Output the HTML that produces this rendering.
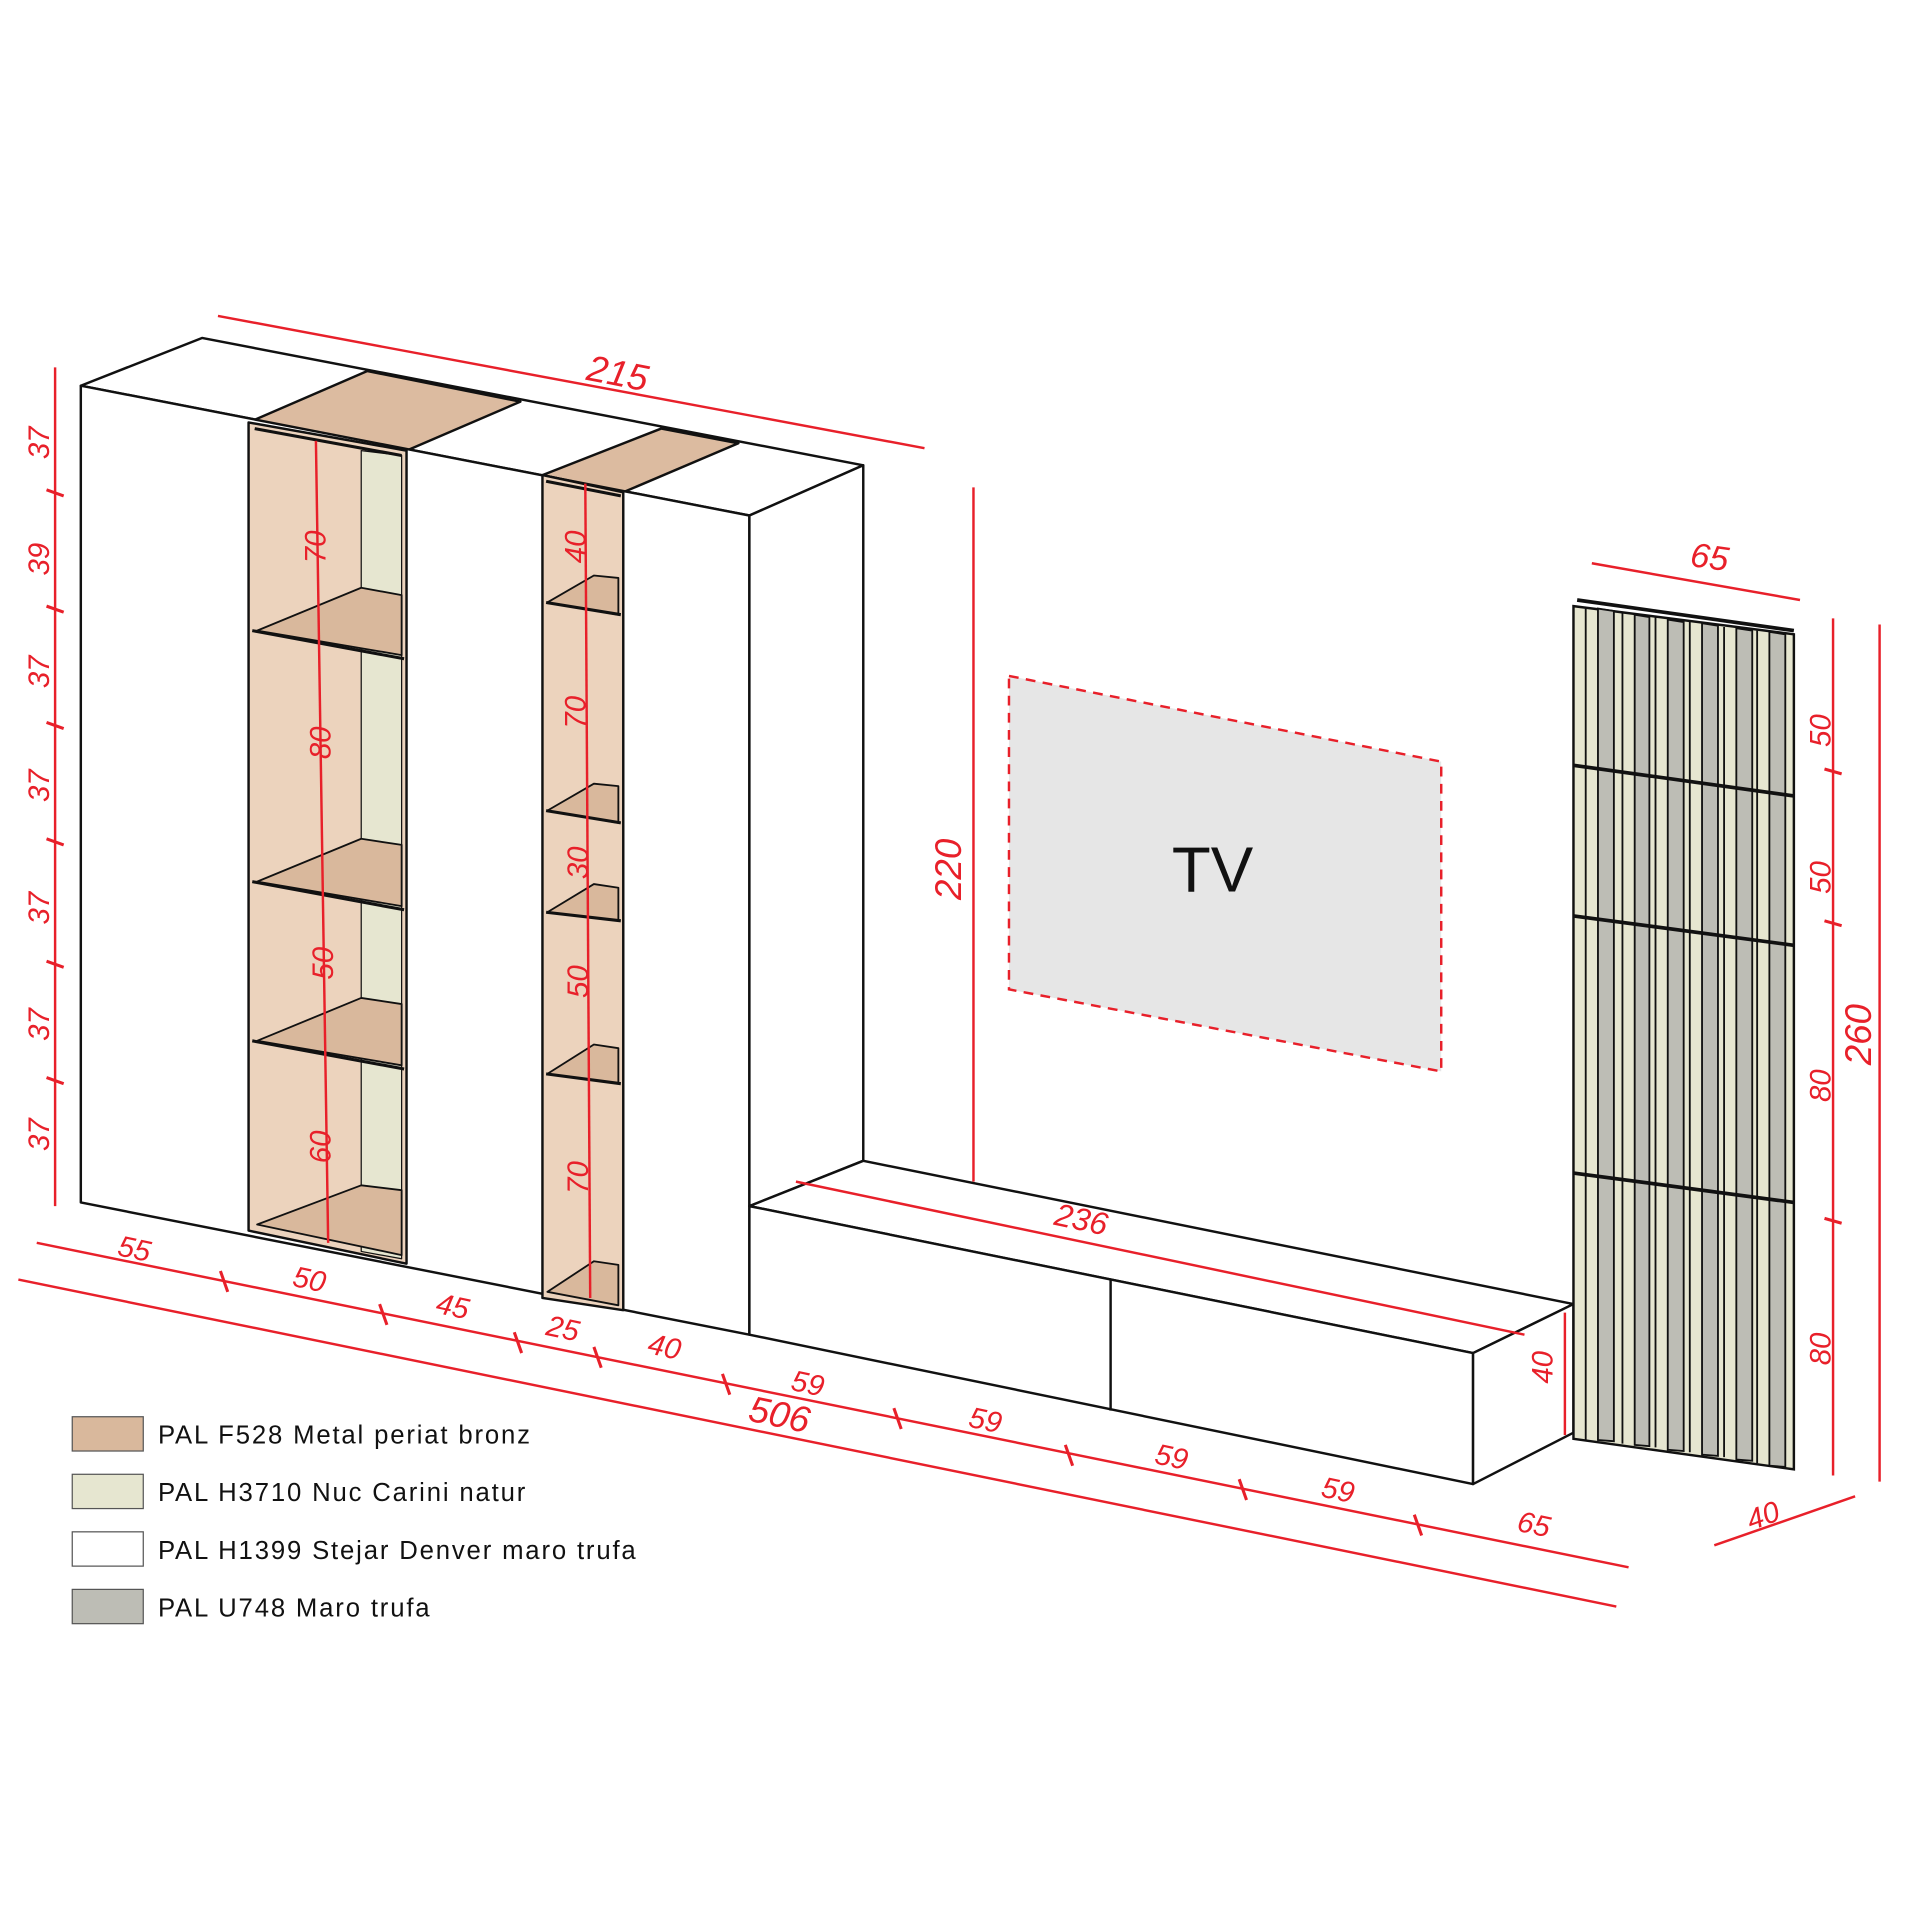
<!DOCTYPE html>
<html><head><meta charset="utf-8"><style>
html,body{margin:0;padding:0;background:#fff;width:1920px;height:1920px;overflow:hidden}
svg{display:block}
.r{fill:#e8202a;font-family:"Liberation Sans",sans-serif;font-size:24px;font-style:italic}
.l{fill:#111;font-family:"Liberation Sans",sans-serif;font-size:21px;letter-spacing:1.5px}
</style></head><body>
<svg width="1920" height="1920" viewBox="0 0 1568 1568" xmlns="http://www.w3.org/2000/svg">
<g stroke="#111" stroke-width="2" fill="#fff" stroke-linejoin="round">
<polygon points="66,315 165,276 705,380 612,421"/>
<polygon points="203,345 300,303 425,328 332,368" fill="#dcbba0"/>
<polygon points="443,388 540,350 603,362 509,402" fill="#dcbba0"/>
<polygon points="66,315 612,421 612,1090 66,982"/>
<polygon points="612,421 705,380 705,948 612,985"/>
<polygon points="203,345 332,368 332,1032 203,1005" fill="#ecd3bd"/>
<polygon points="295,368 328,372 328,1028 295,1022" fill="#e6e6d0" stroke-width="1"/>
<g fill="#d9b89c" stroke-width="1.5">
<polygon points="210,515 295,480 328,486 328,535"/>
<polygon points="210,720 295,685 328,690 328,740"/>
<polygon points="210,850 295,815 328,820 328,870"/>
<polygon points="210,1000 295,968 328,972 328,1025"/>
</g>
<g fill="none" stroke-width="2.5"><line x1="206" y1="515" x2="330" y2="538"/><line x1="206" y1="720" x2="330" y2="743"/><line x1="206" y1="850" x2="330" y2="873"/><line x1="208" y1="350" x2="328" y2="372"/></g>
<polygon points="443,388 509,402 509,1070 443,1060" fill="#ecd3bd"/>
<g fill="#d9b89c" stroke-width="1.5">
<polygon points="447,492 485,470 505,472 505,502"/>
<polygon points="447,662 485,640 505,642 505,672"/>
<polygon points="447,745 485,722 505,725 505,752"/>
<polygon points="447,877 485,853 505,856 505,885"/>
<polygon points="447,1055 485,1030 505,1033 505,1066"/>
</g>
<g fill="none" stroke-width="2.5"><line x1="446" y1="492" x2="507" y2="502"/><line x1="446" y1="662" x2="507" y2="672"/><line x1="446" y1="745" x2="507" y2="752"/><line x1="446" y1="877" x2="507" y2="885"/><line x1="446" y1="393" x2="507" y2="405"/></g>
<polygon points="612,985 705,948 1285,1065 1203,1105"/>
<polygon points="612,985 1203,1105 1203,1212 612,1090"/>
<polygon points="1203,1105 1285,1065 1285,1170 1203,1212"/>
<line x1="907" y1="1045" x2="907" y2="1152"/>
</g>
<polygon points="824,552 1177,622 1177,875 824,808" fill="#e6e6e6" stroke="#e8202a" stroke-width="2" stroke-dasharray="8,6"/>
<text x="957" y="728" font-family="Liberation Sans,sans-serif" font-size="52" fill="#111">TV</text>
<g stroke="#111" stroke-width="2">
<polygon points="1285,495 1465,518 1465,1200 1285,1175" fill="#e6e6d0"/>
<g fill="#bdbdb5" stroke-width="1.5">
<polygon points="1305,497 1318,499 1318,1177 1305,1176"/>
<polygon points="1335,502 1347,504 1347,1181 1335,1180"/>
<polygon points="1362,506 1375,508 1375,1185 1362,1184"/>
<polygon points="1390,509 1403,511 1403,1189 1390,1188"/>
<polygon points="1418,513 1431,515 1431,1193 1418,1192"/>
<polygon points="1445,516 1458,518 1458,1198 1445,1197"/>
</g>
<g stroke-width="1.5"><line x1="1295" y1="497" x2="1295" y2="1176"/><line x1="1325" y1="501" x2="1325" y2="1179"/><line x1="1352" y1="504" x2="1352" y2="1182"/><line x1="1380" y1="508" x2="1380" y2="1186"/><line x1="1408" y1="512" x2="1408" y2="1190"/><line x1="1435" y1="515" x2="1435" y2="1195"/></g>
<g stroke-width="3"><line x1="1285" y1="625" x2="1465" y2="650"/><line x1="1285" y1="748" x2="1465" y2="772"/><line x1="1285" y1="958" x2="1465" y2="982"/><line x1="1288" y1="490" x2="1465" y2="515"/></g>
</g>
<g stroke="#e8202a" stroke-width="2" fill="none">
<line x1="178" y1="258" x2="755" y2="366"/>
<line x1="45" y1="300" x2="45" y2="985"/>
<line x1="795" y1="398" x2="795" y2="965"/>
<line x1="1300" y1="460" x2="1470" y2="490"/>
<line x1="1497" y1="505" x2="1497" y2="1205"/>
<line x1="1535" y1="510" x2="1535" y2="1210"/>
<line x1="1400" y1="1262" x2="1515" y2="1222"/>
<line x1="30" y1="1015" x2="1330" y2="1280"/>
<line x1="15" y1="1045" x2="1320" y2="1312"/>
<line x1="650" y1="965" x2="1245" y2="1090"/>
<line x1="1278" y1="1072" x2="1278" y2="1172"/>
<line x1="258" y1="360" x2="268" y2="1015"/>
<line x1="478" y1="395" x2="482" y2="1060"/>
<g stroke-width="2.5">
<line x1="38" y1="400" x2="52" y2="405"/><line x1="38" y1="495" x2="52" y2="500"/><line x1="38" y1="590" x2="52" y2="595"/><line x1="38" y1="685" x2="52" y2="690"/><line x1="38" y1="785" x2="52" y2="790"/><line x1="38" y1="880" x2="52" y2="885"/>
<line x1="180" y1="1038" x2="186" y2="1055"/><line x1="310" y1="1065" x2="316" y2="1082"/><line x1="420" y1="1088" x2="426" y2="1105"/><line x1="485" y1="1100" x2="491" y2="1117"/><line x1="590" y1="1122" x2="596" y2="1139"/><line x1="730" y1="1150" x2="736" y2="1167"/><line x1="870" y1="1180" x2="876" y2="1197"/><line x1="1012" y1="1208" x2="1018" y2="1225"/><line x1="1155" y1="1237" x2="1161" y2="1254"/>
<line x1="1490" y1="628" x2="1504" y2="632"/><line x1="1490" y1="752" x2="1504" y2="756"/><line x1="1490" y1="995" x2="1504" y2="999"/>
</g>
</g>
<g class="r">
<text transform="translate(478,310) rotate(11)" font-size="30">215</text>
<text transform="translate(785,735) rotate(-90)" font-size="30">220</text>
<text x="1380" y="465" font-size="28" transform="rotate(8 1400 460)">65</text>
<text transform="translate(1528,870) rotate(-90)" font-size="30">260</text>
<text transform="translate(860,1000) rotate(12)" font-size="26">236</text>
<text transform="translate(610,1160) rotate(12)" font-size="30">506</text>
<text transform="translate(1268,1130) rotate(-90)">40</text>
<text transform="translate(1430,1250) rotate(-20)">40</text>
<g>
<text transform="translate(40,375) rotate(-90)">37</text>
<text transform="translate(40,470) rotate(-90)">39</text>
<text transform="translate(40,562) rotate(-90)">37</text>
<text transform="translate(40,655) rotate(-90)">37</text>
<text transform="translate(40,755) rotate(-90)">37</text>
<text transform="translate(40,850) rotate(-90)">37</text>
<text transform="translate(40,940) rotate(-90)">37</text>
</g>
<g>
<text transform="translate(95,1025) rotate(12)">55</text>
<text transform="translate(238,1050) rotate(12)">50</text>
<text transform="translate(355,1072) rotate(12)">45</text>
<text transform="translate(445,1090) rotate(12)">25</text>
<text transform="translate(528,1105) rotate(12)">40</text>
<text transform="translate(645,1135) rotate(12)">59</text>
<text transform="translate(790,1165) rotate(12)">59</text>
<text transform="translate(942,1195) rotate(12)">59</text>
<text transform="translate(1078,1222) rotate(12)">59</text>
<text transform="translate(1238,1250) rotate(12)">65</text>
</g>
<g>
<text transform="translate(1495,610) rotate(-90)">50</text>
<text transform="translate(1495,730) rotate(-90)">50</text>
<text transform="translate(1495,900) rotate(-90)">80</text>
<text transform="translate(1495,1115) rotate(-90)">80</text>
</g>
<g>
<text transform="translate(266,460) rotate(-90)">70</text>
<text transform="translate(270,620) rotate(-90)">80</text>
<text transform="translate(272,800) rotate(-90)">50</text>
<text transform="translate(270,950) rotate(-90)">60</text>
<text transform="translate(478,460) rotate(-90)">40</text>
<text transform="translate(478,595) rotate(-90)">70</text>
<text transform="translate(480,718) rotate(-90)">30</text>
<text transform="translate(480,815) rotate(-90)">50</text>
<text transform="translate(480,975) rotate(-90)">70</text>
</g>
</g>
<g stroke="#555" stroke-width="1">
<rect x="59" y="1157" width="58" height="28" fill="#d9b89c"/>
<rect x="59" y="1204" width="58" height="28" fill="#e6e6d0"/>
<rect x="59" y="1251" width="58" height="28" fill="#fff"/>
<rect x="59" y="1298" width="58" height="28" fill="#bdbdb5"/>
</g>
<g class="l">
<text x="129" y="1179">PAL F528 Metal periat bronz</text>
<text x="129" y="1226">PAL H3710 Nuc Carini natur</text>
<text x="129" y="1273">PAL H1399 Stejar Denver maro trufa</text>
<text x="129" y="1320">PAL U748 Maro trufa</text>
</g>
</svg>
</body></html>
